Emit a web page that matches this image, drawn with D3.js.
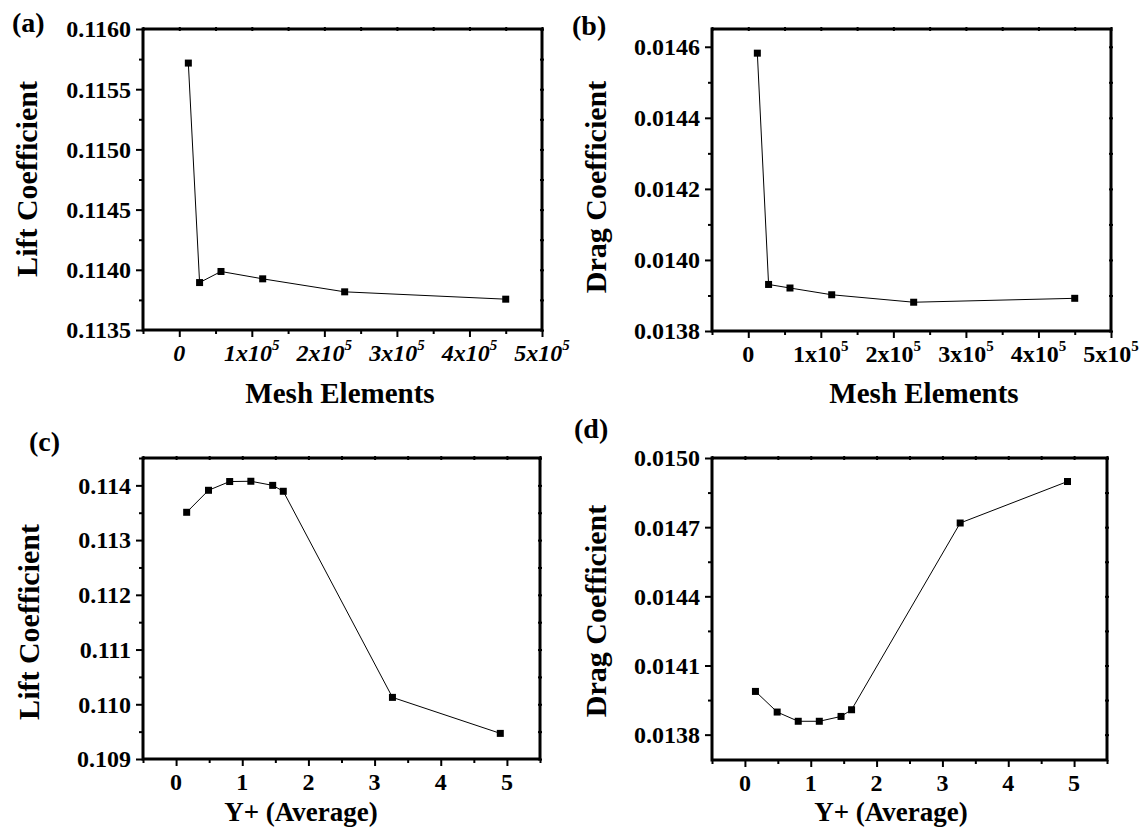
<!DOCTYPE html>
<html><head><meta charset="utf-8">
<script src="https://cdn.jsdelivr.net/npm/d3@7"></script>
<style>
body{margin:0;background:#fff}
</style>
</head><body>
<svg id="chart" width="1143" height="830"></svg>
<script>
// ---- data ----
const meshElements = [12500, 28000, 57500, 115000, 228000, 450000];
const liftMesh = [0.115717, 0.113894, 0.113986, 0.113925, 0.113817, 0.113756];
const dragMesh = [0.014582, 0.013931, 0.013921, 0.013902, 0.013881, 0.013892];
const yPlus = [0.16, 0.49, 0.81, 1.13, 1.46, 1.62, 3.27, 4.90];
const liftYPlus = [0.113508, 0.113910, 0.114070, 0.114075, 0.114000, 0.113892, 0.110126, 0.109468];
const dragYPlus = [0.0139875, 0.013898, 0.013858, 0.013858, 0.013879, 0.013908, 0.014718, 0.014898];

// ---- tick labels ----
const meshTicks = [0, 100000, 200000, 300000, 400000, 500000];
const meshTickText = ["0", "1x10", "2x10", "3x10", "4x10", "5x10"];
const meshTickSup = ["", "5", "5", "5", "5", "5"];
const yPlusTicks = [0, 1, 2, 3, 4, 5];
const yPlusTickText = ["0", "1", "2", "3", "4", "5"];
const liftMeshTicks = [0.1135, 0.1140, 0.1145, 0.1150, 0.1155, 0.1160];
const liftMeshTickText = ["0.1135", "0.1140", "0.1145", "0.1150", "0.1155", "0.1160"];
const dragMeshTicks = [0.0138, 0.0140, 0.0142, 0.0144, 0.0146];
const dragMeshTickText = ["0.0138", "0.0140", "0.0142", "0.0144", "0.0146"];
const liftYPlusTicks = [0.109, 0.110, 0.111, 0.112, 0.113, 0.114];
const liftYPlusTickText = ["0.109", "0.110", "0.111", "0.112", "0.113", "0.114"];
const dragYPlusTicks = [0.0138, 0.0141, 0.0144, 0.0147, 0.0150];
const dragYPlusTickText = ["0.0138", "0.0141", "0.0144", "0.0147", "0.0150"];

const FONT = "Liberation Serif";
const svg = d3.select("#chart");

function minorTicks(majors, domain) {
  const step = majors[1] - majors[0];
  const out = [];
  const lo = Math.min(domain[0], domain[1]), hi = Math.max(domain[0], domain[1]);
  for (let i = -1; i < majors.length; i++) {
    const v = majors[0] + (i + 0.5) * step;
    if (v >= lo - 1e-12 && v <= hi + 1e-12) out.push(v);
  }
  return out;
}

function txt(sel, size) {
  return sel.style("font-family", FONT).style("font-weight", "bold")
    .style("font-size", size + "px").attr("fill", "#000");
}

function panel(cfg) {
  const b = cfg.box;
  const x = d3.scaleLinear().domain(cfg.xDomain).range([b.l, b.r]);
  const y = d3.scaleLinear().domain(cfg.yDomain).range([b.b, b.t]);
  const g = svg.append("g");

  const xMinor = minorTicks(cfg.xTicks, cfg.xDomain);
  const yMinor = minorTicks(cfg.yTicks, cfg.yDomain);

  const bot = g.append("g").attr("transform", `translate(0,${b.b})`);
  bot.call(d3.axisBottom(x).tickValues(cfg.xTicks).tickSizeInner(7).tickSizeOuter(0).tickFormat(""));
  bot.append("g").call(d3.axisBottom(x).tickValues(xMinor).tickSizeInner(4).tickSizeOuter(0).tickFormat(""));
  const lef = g.append("g").attr("transform", `translate(${b.l},0)`);
  lef.call(d3.axisLeft(y).tickValues(cfg.yTicks).tickSizeInner(7).tickSizeOuter(0).tickFormat(""));
  lef.append("g").call(d3.axisLeft(y).tickValues(yMinor).tickSizeInner(4).tickSizeOuter(0).tickFormat(""));
  const top = g.append("g").attr("transform", `translate(0,${b.t + 2})`);
  top.call(d3.axisTop(x).tickValues(cfg.xTicks.concat(xMinor)).tickSizeInner(4).tickSizeOuter(0).tickFormat(""));
  const rig = g.append("g").attr("transform", `translate(${b.r - 2},0)`);
  rig.call(d3.axisRight(y).tickValues(cfg.yTicks.concat(yMinor)).tickSizeInner(4).tickSizeOuter(0).tickFormat(""));

  g.selectAll(".domain").remove();
  g.selectAll(".tick line").attr("stroke", "#000").attr("stroke-width", 2);

  g.append("rect").attr("x", b.l).attr("y", b.t).attr("width", b.r - b.l).attr("height", b.b - b.t)
    .attr("fill", "none").attr("stroke", "#000").attr("stroke-width", 3);

  txt(g.selectAll(".ylab").data(cfg.yTicks).enter().append("text"), 24)
    .attr("x", b.l - 12).attr("y", d => y(d)).attr("dy", "0.35em")
    .attr("text-anchor", "end")
    .text((d, i) => cfg.yTickText[i]);

  const xl = txt(g.selectAll(".xlab").data(cfg.xTicks).enter().append("text"), 24)
    .attr("x", d => x(d)).attr("y", b.b + 31)
    .attr("text-anchor", "middle")
    .style("font-style", cfg.italicX ? "italic" : "normal");
  xl.append("tspan").text((d, i) => cfg.xTickText[i]);
  if (cfg.xTickSup) {
    xl.append("tspan").attr("dy", -11).style("font-size", "15px")
      .text((d, i) => cfg.xTickSup[i]);
  }

  const pts = cfg.xs.map((v, i) => [v, cfg.ys[i]]);
  g.append("path").datum(pts)
    .attr("d", d3.line().x(d => x(d[0])).y(d => y(d[1])))
    .attr("fill", "none").attr("stroke", "#000").attr("stroke-width", 1);
  g.selectAll(".pt").data(pts).enter().append("rect")
    .attr("x", d => x(d[0]) - 3.5).attr("y", d => y(d[1]) - 3.5)
    .attr("width", 7).attr("height", 7).attr("fill", "#000");

  txt(g.append("text"), cfg.xTitleSize).attr("x", cfg.xTitlePos[0]).attr("y", cfg.xTitlePos[1])
    .attr("text-anchor", "middle").text(cfg.xTitle);
  txt(g.append("text"), 30).attr("transform", `translate(${cfg.yTitlePos[0]},${cfg.yTitlePos[1]}) rotate(-90)`)
    .attr("text-anchor", "middle").text(cfg.yTitle);
  txt(g.append("text"), 28).attr("x", cfg.letterPos[0]).attr("y", cfg.letterPos[1])
    .text(cfg.letter);
}

panel({
  box: {l: 143, r: 542, t: 29, b: 330},
  xDomain: [-50000, 500000], yDomain: [0.1135, 0.1160],
  xTicks: meshTicks, xTickText: meshTickText, xTickSup: meshTickSup, italicX: true,
  yTicks: liftMeshTicks, yTickText: liftMeshTickText,
  xs: meshElements, ys: liftMesh,
  xTitle: "Mesh Elements", xTitlePos: [340, 403], xTitleSize: 29,
  yTitle: "Lift Coefficient", yTitlePos: [37, 179],
  letter: "(a)", letterPos: [12, 32]
});
panel({
  box: {l: 712, r: 1111, t: 29, b: 331},
  xDomain: [-50000, 500000], yDomain: [0.0138, 0.01465],
  xTicks: meshTicks, xTickText: meshTickText, xTickSup: meshTickSup, italicX: false,
  yTicks: dragMeshTicks, yTickText: dragMeshTickText,
  xs: meshElements, ys: dragMesh,
  xTitle: "Mesh Elements", xTitlePos: [924, 403], xTitleSize: 29,
  yTitle: "Drag Coefficient", yTitlePos: [606, 187],
  letter: "(b)", letterPos: [572, 35]
});
panel({
  box: {l: 143, r: 540, t: 458, b: 759},
  xDomain: [-0.5, 5.5], yDomain: [0.109, 0.1145],
  xTicks: yPlusTicks, xTickText: yPlusTickText, xTickSup: null, italicX: false,
  yTicks: liftYPlusTicks, yTickText: liftYPlusTickText,
  xs: yPlus, ys: liftYPlus,
  xTitle: "Y+ (Average)", xTitlePos: [301, 821], xTitleSize: 27,
  yTitle: "Lift Coefficient", yTitlePos: [39, 622],
  letter: "(c)", letterPos: [29, 451]
});
panel({
  box: {l: 712, r: 1107, t: 458, b: 760},
  xDomain: [-0.5, 5.5], yDomain: [0.01369, 0.0150],
  xTicks: yPlusTicks, xTickText: yPlusTickText, xTickSup: null, italicX: false,
  yTicks: dragYPlusTicks, yTickText: dragYPlusTickText,
  xs: yPlus, ys: dragYPlus,
  xTitle: "Y+ (Average)", xTitlePos: [891, 821], xTitleSize: 27,
  yTitle: "Drag Coefficient", yTitlePos: [606, 611],
  letter: "(d)", letterPos: [574, 438]
});
</script>
</body></html>
